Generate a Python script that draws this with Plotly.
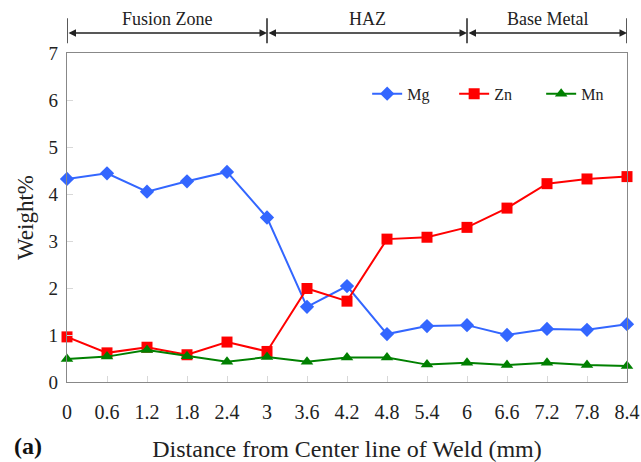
import plotly.graph_objects as go

distance = [0, 0.6, 1.2, 1.8, 2.4, 3, 3.6, 4.2, 4.8, 5.4, 6, 6.6, 7.2, 7.8, 8.4]
tick_labels = ["0", "0.6", "1.2", "1.8", "2.4", "3", "3.6", "4.2", "4.8", "5.4", "6", "6.6", "7.2", "7.8", "8.4"]
mg = [4.32, 4.44, 4.05, 4.27, 4.47, 3.50, 1.60, 2.04, 1.02, 1.19, 1.21, 1.00, 1.13, 1.11, 1.23]
zn = [0.96, 0.62, 0.74, 0.58, 0.85, 0.65, 1.99, 1.72, 3.04, 3.08, 3.29, 3.70, 4.22, 4.32, 4.37]
mn = [0.49, 0.54, 0.68, 0.55, 0.43, 0.53, 0.43, 0.52, 0.52, 0.37, 0.41, 0.36, 0.41, 0.36, 0.34]
zones = ["Fusion Zone", "HAZ", "Base Metal"]
zone_bounds = [0, 3, 6, 8.4]

FONT = "Liberation Serif, Times New Roman, serif"

fig = go.Figure()
fig.add_trace(go.Scatter(x=distance, y=mg, name="Mg", mode="lines+markers",
                         line=dict(color="#3366FF", width=2),
                         marker=dict(symbol="diamond", size=11, color="#3366FF"),
                         cliponaxis=False))
fig.add_trace(go.Scatter(x=distance, y=zn, name="Zn", mode="lines+markers",
                         line=dict(color="#FF0000", width=2),
                         marker=dict(symbol="square", size=11, color="#FF0000"),
                         cliponaxis=False))
fig.add_trace(go.Scatter(x=distance, y=mn, name="Mn", mode="lines+markers",
                         line=dict(color="#008000", width=2),
                         marker=dict(symbol="triangle-up", size=11, color="#008000"),
                         cliponaxis=False))

# zone brackets above the plot
y_arrow = 1.061
for i, z in enumerate(zones):
    x0, x1 = zone_bounds[i], zone_bounds[i + 1]
    fig.add_annotation(x=x1, y=y_arrow, ax=x0, ay=0, xref="x", yref="paper",
                       axref="x", ayref="pixel", showarrow=True, arrowside="end+start",
                       arrowhead=2, arrowsize=1, arrowwidth=1.5, arrowcolor="#222",
                       text="", standoff=0, startstandoff=0)
    fig.add_annotation(x=(x0 + x1) / 2, y=1.104, xref="x", yref="paper", text=z,
                       showarrow=False, yanchor="middle",
                       font=dict(family=FONT, size=18, color="#222"))
for b in zone_bounds:
    fig.add_shape(type="line", xref="x", yref="paper", x0=b, x1=b, y0=1.030, y1=1.106,
                  line=dict(color="#222", width=1.5))

pw, ph = 641 - 67 - 14, 462 - 53 - 80
fig.add_annotation(x=(28 - 67) / pw, y=(382 - 446) / ph, xref="paper", yref="paper",
                   xanchor="center", yanchor="middle",
                   text="<b>(a)</b>", showarrow=False,
                   font=dict(family=FONT, size=24, color="#111"))

fig.update_layout(
    width=641, height=462,
    margin=dict(l=67, r=14, t=53, b=80, autoexpand=False),
    paper_bgcolor="white", plot_bgcolor="white",
    font=dict(family=FONT, size=20, color="#222"),
    showlegend=True,
    legend=dict(orientation="h", x=0.536, y=0.876, xanchor="left", yanchor="middle",
                font=dict(family=FONT, size=16, color="#222"),
                bgcolor="rgba(0,0,0,0)", entrywidth=42, entrywidthmode="pixels",
                tracegroupgap=0),
    xaxis=dict(range=[0, 8.4], tickvals=distance, ticktext=tick_labels,
               showgrid=False, zeroline=False, showline=True, linecolor="#888",
               linewidth=1.2, mirror=True, ticks="inside", ticklen=6, tickcolor="#d8d8d8",
               ticklabelstandoff=12, tickfont=dict(size=20),
               title=dict(text="Distance from Center line of Weld (mm)", standoff=19,
                          font=dict(family=FONT, size=24, color="#222"))),
    yaxis=dict(range=[0, 7], dtick=1, showgrid=False, zeroline=False, showline=True,
               linecolor="#888", linewidth=1.2, mirror=True, ticks="inside", ticklen=6,
               tickcolor="#d8d8d8", ticklabelstandoff=4, tickfont=dict(size=19),
               title=dict(text="Weight%", standoff=8,
                          font=dict(family=FONT, size=23, color="#222"))),
)

fig.write_html("out.html")
